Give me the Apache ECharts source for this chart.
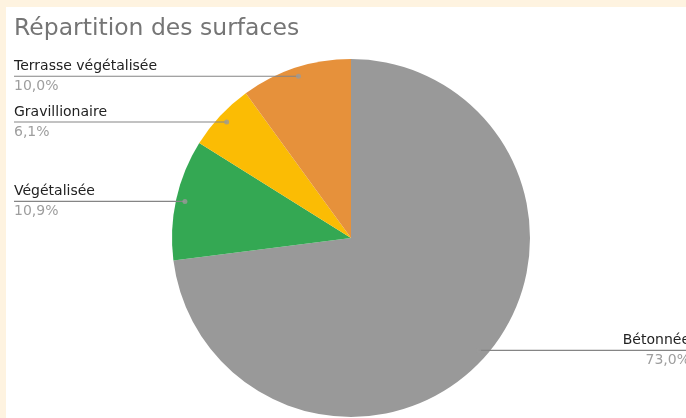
<!DOCTYPE html>
<html>
<head>
<meta charset="utf-8">
<script src="https://cdn.jsdelivr.net/npm/echarts@6/dist/echarts.min.js"></script>
<style>
  html, body { margin: 0; padding: 0; background: #fef3e0; }
  #frame { position: absolute; left: 6px; top: 7px; width: 680px; height: 411px; background: #ffffff; }
  #chart { width: 680px; height: 411px; }
</style>
</head>
<body>
<div id="frame"><div id="chart"></div></div>
<script>
// Surface breakdown (percent of total area)
const categories = ['Bétonnée', 'Végétalisée', 'Gravillionaire', 'Terrasse végétalisée'];
const values = [73.0, 10.9, 6.1, 10.0];
const sliceColors = ['#999999', '#34a853', '#fbbc04', '#e6913b'];

const CENTER = [345, 231];
const RADIUS = 179;
const LEADER_RATIO = 0.95;   // leader lines start slightly inside the rim
const FONT = 'DejaVu Sans';

const pieData = categories.map((name, i) => ({ name, value: values[i] }));

// mid angle of each slice, in percent of the full turn, for the leader dots
const total = values.reduce((a, b) => a + b, 0);
let acc = 0;
const dotData = values.map(v => {
  const mid = (acc + v / 2) / total * 100;
  acc += v;
  return [LEADER_RATIO, mid];
});

const chart = echarts.init(document.getElementById('chart'), null, { renderer: 'canvas' });
const width = chart.getWidth();

chart.setOption({
  animation: false,
  backgroundColor: '#ffffff',
  title: {
    text: 'Répartition des surfaces',
    left: 8,
    top: 10,
    padding: 0,
    textStyle: { fontFamily: FONT, fontSize: 23.5, fontWeight: 'normal', color: '#757575' }
  },
  polar: { center: CENTER, radius: RADIUS },
  angleAxis: { type: 'value', min: 0, max: 100, startAngle: 90, clockwise: true, show: false },
  radiusAxis: { type: 'value', min: 0, max: 1, show: false },
  series: [
    {
      type: 'pie',
      name: 'surfaces',
      center: CENTER,
      radius: RADIUS,
      startAngle: 90,
      clockwise: true,
      silent: true,
      color: sliceColors,
      itemStyle: { borderWidth: 0 },
      label: { show: false },
      labelLine: { show: false },
      data: pieData
    },
    {
      // transparent copy of the pie that carries the labels and leader lines
      type: 'pie',
      name: 'labels',
      center: CENTER,
      radius: RADIUS * LEADER_RATIO,
      startAngle: 90,
      clockwise: true,
      silent: true,
      z: 3,
      percentPrecision: 1,
      itemStyle: { color: 'rgba(0,0,0,0)', borderWidth: 0 },
      label: {
        show: true,
        formatter: p => '{n|' + p.name + '}\n{p|' + p.percent.toFixed(1).replace('.', ',') + '%}',
        rich: {
          n: { fontFamily: FONT, fontSize: 14, color: '#222222', lineHeight: 20 },
          p: { fontFamily: FONT, fontSize: 14, color: '#9e9e9e', lineHeight: 20 }
        }
      },
      labelLine: { show: true, length: 10, length2: 10, lineStyle: { color: '#858585', width: 1.2 } },
      labelLayout: function (params) {
        const start = params.labelLinePoints[0];
        const isLeft = start[0] < CENTER[0];
        const endX = isLeft ? 8 : width;
        return {
          x: isLeft ? 8 : width + 4,
          y: start[1],
          align: isLeft ? 'left' : 'right',
          verticalAlign: 'middle',
          labelLinePoints: [start, [(start[0] + endX) / 2, start[1]], [endX, start[1]]]
        };
      },
      data: pieData
    },
    {
      type: 'scatter',
      coordinateSystem: 'polar',
      silent: true,
      z: 4,
      symbol: 'circle',
      symbolSize: 5,
      itemStyle: { color: '#9a9a9a' },
      data: dotData
    }
  ]
});
</script>
</body>
</html>
